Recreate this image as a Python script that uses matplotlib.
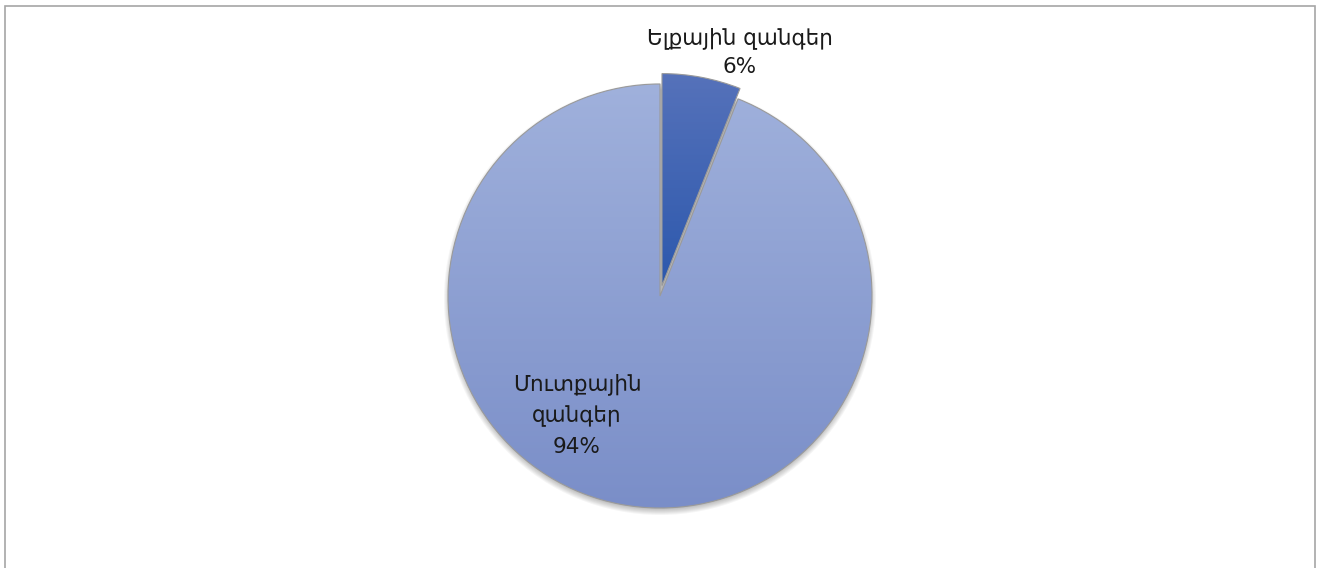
import numpy as np
import matplotlib.pyplot as plt
from matplotlib.colors import to_rgb
from matplotlib.patches import Circle, Rectangle

# DATA
labels = ['Ելքային զանգեր', 'Մուտքային\nզանգեր']
values = [6, 94]
explode = [0.05, 0]   # fraction of radius

# top / bottom colours of the gradient for each slice
grad_colors = [('#5672ba', '#2c58ad'), ('#a0b1dc', '#7a8ec8')]

fig = plt.figure(figsize=(13.2, 5.68), dpi=100)
ax = fig.add_axes([0, 0, 1, 1])

cx, cy, r = 660, 272, 212

# soft shadow under the pie
for i in range(8):
    ax.add_patch(Circle((cx, cy - 3), r + 4 - i, color='#000000', alpha=0.04, lw=0, zorder=0))

wedges, _ = ax.pie(values, explode=[e * r for e in explode], startangle=90, counterclock=False,
                   center=(cx, cy), radius=r, frame=True,
                   wedgeprops=dict(edgecolor='#9a9a9a', linewidth=0.8))

# vertical gradient fill clipped to each wedge
for w, (c_top, c_bot) in zip(wedges, grad_colors):
    top = np.array(to_rgb(c_top))
    bot = np.array(to_rgb(c_bot))
    t = np.linspace(0, 1, 256)[:, None]
    img = (top * (1 - t) + bot * t)[:, None, :]
    img = np.repeat(img, 2, axis=1)
    bb = w.get_path().get_extents(w.get_patch_transform())
    w.set_facecolor('none')
    im = ax.imshow(img, extent=(bb.x0 - 2, bb.x1 + 2, bb.y0 - 2, bb.y1 + 2),
                   origin='upper', aspect='auto', zorder=1)
    im.set_clip_path(w)
    w.set_zorder(2)

ax.set_xlim(0, 1320)
ax.set_ylim(0, 568)
ax.set_aspect('equal')
ax.axis('off')

txt_color = '#1a1a1a'
ax.text(740, 516, labels[0] + '\n' + str(values[0]) + '%', ha='center', va='center',
        fontsize=15.5, color=txt_color, linespacing=1.55, family='DejaVu Sans')
ax.text(577, 153, labels[1] + '\n' + str(values[1]) + '%', ha='center', va='center',
        fontsize=15.5, color=txt_color, linespacing=1.6, family='DejaVu Sans')

# outer frame
fig.patches.append(Rectangle((5 / 1320, -0.01), 1310 / 1320, 1 - 6 / 568 + 0.01,
                             transform=fig.transFigure, fill=False,
                             edgecolor='#a6a6a6', linewidth=1.2))

fig.savefig('out.png', dpi=100)
